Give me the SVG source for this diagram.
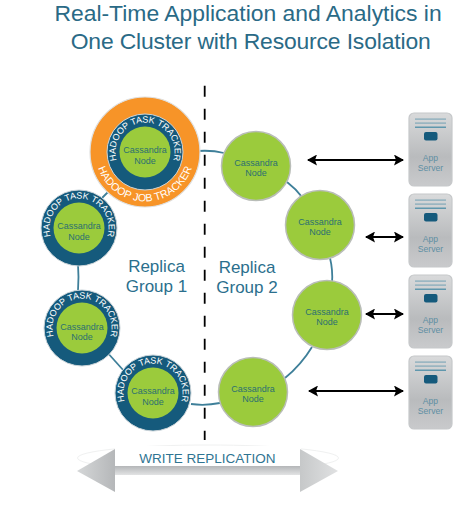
<svg xmlns="http://www.w3.org/2000/svg" width="473" height="505" viewBox="0 0 473 505">
<style>
text{font-family:"Liberation Sans",Arial,sans-serif}
.title{font-size:22.9px;fill:#2a6a86;text-anchor:middle}
.rep{font-size:17px;fill:#2b6f8d;text-anchor:middle}
.nl{font-size:9px;fill:#2c7070;text-anchor:middle}
.sl{font-size:8.6px;fill:#5f8fa3;text-anchor:middle}
.tt{font-size:9px;fill:#fff;text-anchor:middle}
.tj{font-size:10.6px;fill:#fff;text-anchor:middle}
.dark{fill:#155a7c;stroke:#c9d3d8;stroke-width:1}
.green{fill:#9bcb3c}
.gr2{fill:#9bcb3c;stroke:#b9bdb8;stroke-width:1.5}
.conn{fill:none;stroke:#3e7f99;stroke-width:1.8}
.arr{stroke:#000;stroke-width:1.9;fill:none;marker-start:url(#h);marker-end:url(#h)}
.bar{fill:#5f97ad}
.slot{fill:#155a7c}
.box{fill:url(#srv);stroke:#c6c8ca;stroke-width:1.2}
</style>
<defs>
<marker id="h" markerUnits="userSpaceOnUse" markerWidth="10" markerHeight="11" refX="9" refY="5.500" orient="auto-start-reverse"><path d="M0,0L10,5.500L0,11L2,5.500z" fill="#000"/></marker>
<linearGradient id="srv" x1="0" y1="0" x2="0" y2="1"><stop offset="0" stop-color="#d9dadb"/><stop offset=".6" stop-color="#b9bbbd"/><stop offset="1" stop-color="#c9cacc"/></linearGradient>
<linearGradient id="arL" x1="0" y1="0" x2="1" y2="0"><stop offset="0" stop-color="#d5d7d8"/><stop offset="1" stop-color="#b5b7b9"/></linearGradient>
<linearGradient id="arR" x1="0" y1="0" x2="1" y2="0"><stop offset="0" stop-color="#c6c8c9"/><stop offset="1" stop-color="#e0e1e2"/></linearGradient>
<linearGradient id="shaft" x1="0" y1="0" x2="0" y2="1"><stop offset="0" stop-color="#b4b6b8"/><stop offset="1" stop-color="#e2e3e4"/></linearGradient>
<path id="ring" d="M0,29.500A29.500,29.500 0 1 1 0,-29.500A29.500,29.500 0 1 1 0,29.500"/>
<path id="ringJ" d="M0,-49.500A49.500,49.500 0 1 0 0,49.500A49.500,49.500 0 1 0 0,-49.500"/>
<g id="srvShape">
<rect class="box" x="0" y="0" width="43" height="73" rx="5"/>
<rect class="bar" x="6" y="5.500" width="31" height="1.200" fill-opacity=".7"/>
<rect class="bar" x="6" y="9.500" width="31" height="1.200" fill-opacity=".7"/>
<rect class="bar" x="6" y="13.500" width="31" height="1.500"/>
<rect class="slot" x="15" y="19" width="13.500" height="8.500" rx="2"/>
<text class="sl" x="21.500" y="48">App</text>
<text class="sl" x="21.500" y="58">Server</text>
</g>
</defs>

<text class="title" x="248" y="21">Real-Time Application and Analytics in</text>
<text class="title" x="250.700" y="49" textLength="360">One Cluster with Resource Isolation</text>

<g id="connectors">
<path class="conn" d="M198,151Q212,150 224,153"/>
<path class="conn" d="M287,182Q296,189 302,197"/>
<path class="conn" d="M330,258Q333,270 332,283"/>
<path class="conn" d="M312,347Q301,365 285,378"/>
<path class="conn" d="M191,404Q205,406 220,403"/>
<path class="conn" d="M106,351L124,371"/>
<path class="conn" d="M78,264Q79,277 78,291"/>
<path class="conn" d="M102,198L111,189"/>
<path d="M204.700,85.700V440" fill="none" stroke="#000" stroke-width="1.8" stroke-dasharray="11 12"/>
<path class="arr" d="M308,160H403"/>
<path class="arr" d="M366,237H403"/>
<path class="arr" d="M366,314H403"/>
<path class="arr" d="M309,391H403"/>
</g>

<g id="job-tracker-node" transform="translate(145 152)">
<circle r="55" fill="#f79428" stroke="#dfe0e0" stroke-width="1.2"/>
<text class="tj"><textPath href="#ringJ" startOffset="50%">HADOOP JOB TRACKER</textPath></text>
<circle class="dark" r="38"/>
<circle class="green" r="25.500"/>
<text class="tt"><textPath href="#ring" startOffset="50%">HADOOP TASK TRACKER</textPath></text>
<text class="nl" y="1">Cassandra</text><text class="nl" y="12">Node</text>
</g>
<g id="task-node-2" transform="translate(79 228)">
<circle class="dark" r="38"/><circle class="green" r="25.500"/>
<text class="tt"><textPath href="#ring" startOffset="50%">HADOOP TASK TRACKER</textPath></text>
<text class="nl" y="1">Cassandra</text><text class="nl" y="12">Node</text>
</g>
<g id="task-node-3" transform="translate(82 328)">
<circle class="dark" r="38"/><circle class="green" r="25.500"/>
<text class="tt"><textPath href="#ring" startOffset="50%">HADOOP TASK TRACKER</textPath></text>
<text class="nl" y="1.500">Cassandra</text><text class="nl" y="11.500">Node</text>
</g>
<g id="task-node-4" transform="translate(153 393)">
<circle class="dark" r="38"/><circle class="green" r="25.500"/>
<text class="tt"><textPath href="#ring" startOffset="50%">HADOOP TASK TRACKER</textPath></text>
<text class="nl" y="1">Cassandra</text><text class="nl" y="12">Node</text>
</g>

<g id="cass-node-1" transform="translate(256 166)"><circle class="gr2" r="34.500"/><text class="nl" y="-0.500">Cassandra</text><text class="nl" y="9.500">Node</text></g>
<g id="cass-node-2" transform="translate(320 225)"><circle class="gr2" r="34.500"/><text class="nl" y="-0.500">Cassandra</text><text class="nl" y="9.500">Node</text></g>
<g id="cass-node-3" transform="translate(327 315)"><circle class="gr2" r="34.500"/><text class="nl" y="-0.500">Cassandra</text><text class="nl" y="9.500">Node</text></g>
<g id="cass-node-4" transform="translate(253 392)"><circle class="gr2" r="34.500"/><text class="nl" y="-0.500">Cassandra</text><text class="nl" y="9.500">Node</text></g>

<g id="app-server-1"><use href="#srvShape" x="409" y="113"/></g>
<g id="app-server-2"><use href="#srvShape" x="409" y="194"/></g>
<g id="app-server-3"><use href="#srvShape" x="409" y="275"/></g>
<g id="app-server-4"><use href="#srvShape" x="409" y="356"/></g>

<text class="rep" x="156.500" y="272">Replica</text>
<text class="rep" x="156.500" y="292">Group 1</text>
<text class="rep" x="247" y="273">Replica</text>
<text class="rep" x="247" y="293">Group 2</text>

<g id="write-replication">
<ellipse cx="208" cy="458" rx="130.500" ry="13" fill="#fff" stroke="#f0f1f1" stroke-width="1"/>
<path d="M115,446H301V468H115z" fill="#fff"/>
<path d="M115,466H301V475H115z" fill="url(#shaft)"/>
<path d="M115,449V492L77,471z" fill="url(#arL)"/>
<path d="M300,449V492L338,471z" fill="url(#arR)"/>
<text x="207.500" y="463" font-size="13.500px" fill="#2f7492" text-anchor="middle">WRITE REPLICATION</text>
</g>
</svg>
